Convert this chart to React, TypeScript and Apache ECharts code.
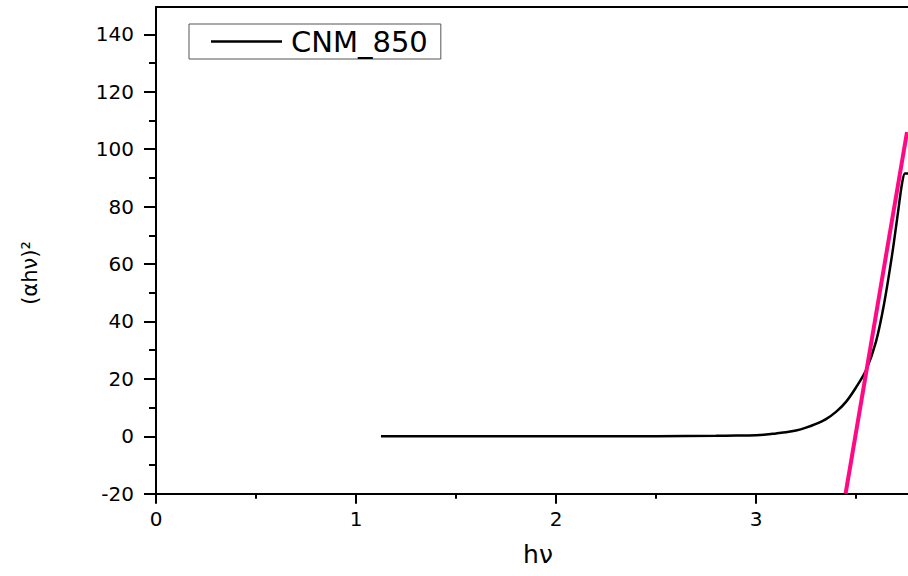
import React, { useEffect, useRef } from "react";
import * as echarts from "echarts";

// photon energy (eV) and (αhν)^2
const hv = [1.125, 1.5, 2.0, 2.5, 2.8, 2.9, 3.0, 3.05, 3.1, 3.15, 3.2, 3.25, 3.3, 3.35, 3.4, 3.45, 3.5, 3.55, 3.6, 3.64, 3.68, 3.71, 3.73, 3.745, 3.76];
const absorb = [0, 0, 0, 0.05, 0.15, 0.25, 0.4, 0.6, 1.0, 1.4, 2.0, 3.0, 4.3, 6.0, 8.5, 12, 17, 23, 33, 46, 63, 78, 88, 91.5, 91.5];

// tangent (Tauc extrapolation) line end points
const tangentX = [3.448, 3.755];
const tangentY = [-20, 106];

const xMajor = [0, 1, 2, 3];
const xMinor = [0.5, 1.5, 2.5, 3.5];
const yMajor = [-20, 0, 20, 40, 60, 80, 100, 120, 140];
const yMinor = [-10, 10, 30, 50, 70, 90, 110, 130];

const seriesName = "CNM_850";
const FONT = "DejaVu Sans";

export default function App() {
  const ref = useRef<HTMLDivElement>(null);
  useEffect(() => {
    if (!ref.current) return;
    const chart = echarts.init(ref.current, null, { renderer: "svg" });
    const X_MIN = 0, X_MAX = 3.76, Y_MIN = -20, Y_MAX = 149.5;
    const axisLine = { show: true, onZero: false, lineStyle: { color: "#000", width: 2 } };
    const tickStyle = { color: "#000", width: 2 };
    const labelStyle = { color: "#000", fontSize: 20, fontFamily: FONT };
    chart.setOption({
      animation: false,
      backgroundColor: "#fff",
      grid: { left: 156, right: 0, top: 7.1, bottom: 82.3, containLabel: false, outerBoundsMode: "none" },
      legend: {
        data: [{ name: seriesName, icon: "rect" }],
        left: 189,
        top: 24,
        itemWidth: 71,
        itemHeight: 2.5,
        padding: [3, 13, 3, 22],
        borderColor: "#555",
        borderWidth: 1,
        borderRadius: 0,
        textStyle: { color: "#000", fontSize: 29, fontFamily: FONT, padding: [0, 0, 0, 4], lineHeight: 27 },
        itemStyle: { color: "#000" },
      },
      xAxis: [
        {
          type: "value", min: X_MIN, max: X_MAX, position: "bottom",
          name: "hν",
          nameLocation: "middle",
          nameGap: 48,
          nameTextStyle: { color: "#000", fontSize: 25, fontFamily: FONT, padding: [0, 0, 0, 12] },
          axisLine,
          axisTick: { show: true, customValues: xMajor, length: 10, lineStyle: tickStyle },
          axisLabel: { ...labelStyle, customValues: xMajor, margin: 15 },
          splitLine: { show: false },
        },
        {
          type: "value", min: X_MIN, max: X_MAX, position: "bottom",
          axisLine: { show: false, onZero: false },
          axisTick: { show: true, customValues: xMinor, length: 5, lineStyle: tickStyle },
          axisLabel: { show: false },
          splitLine: { show: false },
        },
        {
          type: "value", min: X_MIN, max: X_MAX, position: "top",
          axisLine,
          axisTick: { show: false },
          axisLabel: { show: false },
          splitLine: { show: false },
        },
      ],
      yAxis: [
        {
          type: "value", min: Y_MIN, max: Y_MAX, position: "left",
          axisLine,
          axisTick: { show: true, customValues: yMajor, length: 12, lineStyle: tickStyle },
          axisLabel: { ...labelStyle, customValues: yMajor, margin: 22 },
          splitLine: { show: false },
        },
        {
          type: "value", min: Y_MIN, max: Y_MAX, position: "left",
          axisLine: { show: false, onZero: false },
          axisTick: { show: true, customValues: yMinor, length: 7, lineStyle: tickStyle },
          axisLabel: { show: false },
          splitLine: { show: false },
        },
      ],
      graphic: [
        {
          type: "group",
          x: 30,
          y: 273,
          rotation: Math.PI / 2,
          children: [
            {
              type: "text",
              x: 0,
              y: 0,
              style: { text: "(αhν)²", fontSize: 21, fontFamily: FONT, fill: "#000", align: "center", verticalAlign: "middle" },
            },
          ],
        },
      ],
      series: [
        {
          name: seriesName,
          type: "line",
          xAxisIndex: 0, yAxisIndex: 0,
          data: hv.map((x, i) => [x, absorb[i]]),
          showSymbol: false,
          smooth: 0.3,
          lineStyle: { color: "#000", width: 2.5 },
          itemStyle: { color: "#000" },
          z: 2,
        },
        {
          name: "tangent",
          type: "line",
          xAxisIndex: 0, yAxisIndex: 0,
          data: tangentX.map((x, i) => [x, tangentY[i]]),
          showSymbol: false,
          lineStyle: { color: "#FF0A84", width: 4 },
          itemStyle: { color: "#FF0A84" },
          z: 3,
        },
      ],
    });
    return () => chart.dispose();
  }, []);
  return <div ref={ref} style={{ position: "absolute", left: 0, top: 0, width: 908, height: 576 }} />;
}
